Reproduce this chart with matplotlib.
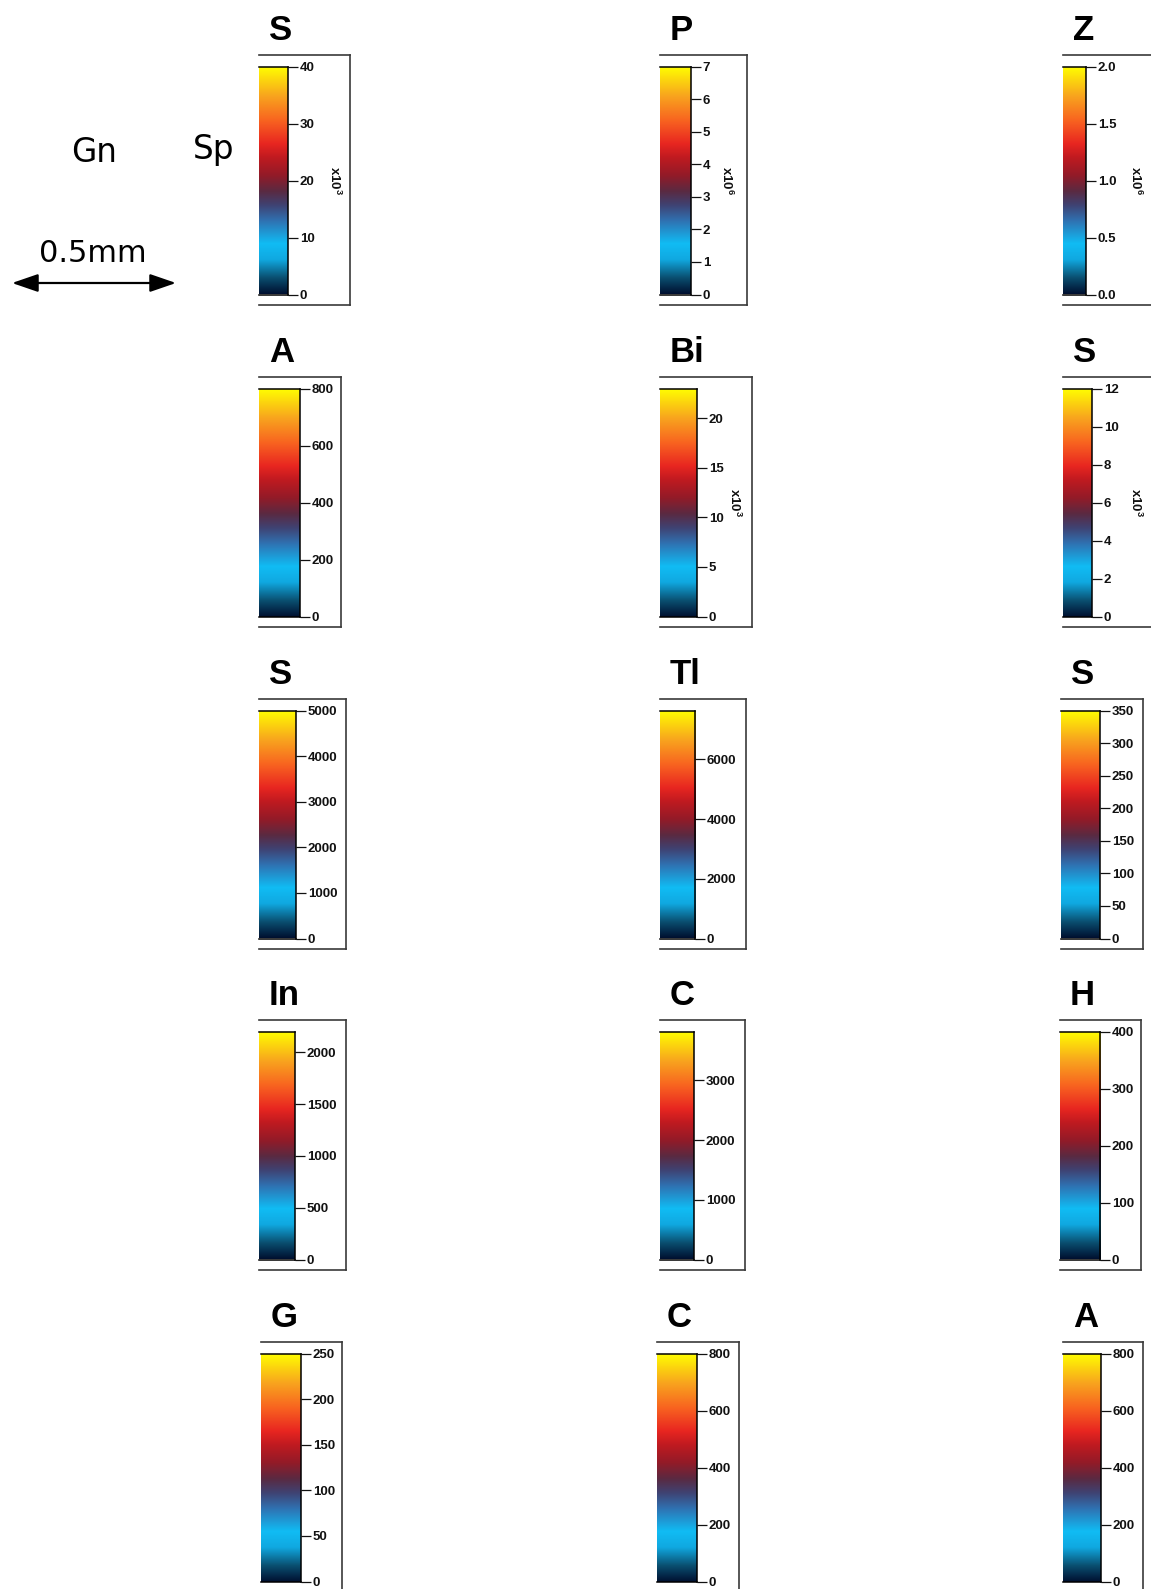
"""
Element map colour scales (Gn / Sp section), 5 x 3 grid of colorbars
"""

import numpy as np
import matplotlib
matplotlib.use("Agg")
import matplotlib.pyplot as plt
from matplotlib.colors import LinearSegmentedColormap
from matplotlib.patches import FancyArrowPatch

plt.rcParams["font.family"] = ["Liberation Sans", "DejaVu Sans"]
plt.rcParams["mathtext.fontset"] = "custom"
plt.rcParams["mathtext.rm"] = "Liberation Sans"
plt.rcParams["mathtext.bf"] = "Liberation Sans:bold"

W, H = 1151, 1589

# ---- data (row-major, 5 rows x 3 columns) ----
titles = ["S", "P", "Z",
          "A", "Bi", "S",
          "S", "Tl", "S",
          "In", "C", "H",
          "G", "C", "A"]
vmax = [40, 7, 2.0,
        800, 23, 12,
        5000, 7640, 350,
        2200, 3820, 400,
        250, 800, 800]
ticks = [[0, 10, 20, 30, 40], [0, 1, 2, 3, 4, 5, 6, 7], [0.0, 0.5, 1.0, 1.5, 2.0],
         [0, 200, 400, 600, 800], [0, 5, 10, 15, 20], [0, 2, 4, 6, 8, 10, 12],
         [0, 1000, 2000, 3000, 4000, 5000], [0, 2000, 4000, 6000], [0, 50, 100, 150, 200, 250, 300, 350],
         [0, 500, 1000, 1500, 2000], [0, 1000, 2000, 3000], [0, 100, 200, 300, 400],
         [0, 50, 100, 150, 200, 250], [0, 200, 400, 600, 800], [0, 200, 400, 600, 800]]
exponent = ["3", "6", "6",
            "", "3", "3",
            "", "", "",
            "", "", "",
            "", "", ""]

# ---- layout in pixels ----
row_top = [55, 377, 699, 1020, 1342]
cbar_left = [259, 660, 1063, 259, 660, 1063, 259, 660, 1061, 259, 660, 1060, 261, 657, 1063]
cbar_right = [288, 691, 1086, 300, 697, 1092, 296, 695, 1100, 295, 694, 1100, 301, 697, 1101]
frame_right = [350, 747, 1165, 341, 752, 1165, 346, 746, 1143, 346, 745, 1141, 342, 739, 1143]
exp_x = [335, 727, 1136, 0, 735, 1136, 0, 0, 0, 0, 0, 0, 0, 0, 0]
FRAME_H = 250
CBAR_OFF = 11.5
CBAR_H = 228

cmap = LinearSegmentedColormap.from_list("map", [
    (0.00, "#001030"),
    (0.07, "#0a4f70"),
    (0.15, "#10a8e0"),
    (0.22, "#10bcf4"),
    (0.32, "#2f72b2"),
    (0.39, "#3f4272"),
    (0.45, "#5a2a42"),
    (0.52, "#921b28"),
    (0.60, "#c01a20"),
    (0.66, "#e82620"),
    (0.76, "#f86220"),
    (0.87, "#f8a41e"),
    (1.00, "#ffff00"),
])


def box(x0, y0, x1, y1):
    return [x0 / W, 1 - y1 / H, (x1 - x0) / W, (y1 - y0) / H]


fig = plt.figure(figsize=(W / 100, H / 100), dpi=100)
gradient = np.linspace(0, 1, 512).reshape(-1, 1)

for i, name in enumerate(titles):
    top = row_top[i // 3]

    # frame around the (empty) map area
    fr = fig.add_axes(box(cbar_left[i], top, frame_right[i], top + FRAME_H))
    fr.set_xticks([])
    fr.set_yticks([])
    fr.spines["left"].set_visible(False)
    for s in ["top", "right", "bottom"]:
        fr.spines[s].set_color("#3a3a3a")
        fr.spines[s].set_linewidth(1.2)

    # colour bar
    cb = fig.add_axes(box(cbar_left[i], top + CBAR_OFF, cbar_right[i], top + CBAR_OFF + CBAR_H))
    cb.imshow(gradient, extent=(0, 1, 0, vmax[i]), origin="lower", aspect="auto", cmap=cmap)
    cb.set_ylim(0, vmax[i])
    cb.set_xticks([])
    cb.yaxis.tick_right()
    cb.set_yticks(ticks[i])
    if isinstance(ticks[i][0], float):
        cb.set_yticklabels([f"{t:.1f}" for t in ticks[i]])
    else:
        cb.set_yticklabels([str(t) for t in ticks[i]])
    cb.tick_params(axis="y", length=7, width=0.9, pad=1.5, labelsize=9.5, colors="#111111")
    for lab in cb.get_yticklabels():
        lab.set_fontweight("bold")
    cb.spines["left"].set_visible(False)
    for s in ["top", "right", "bottom"]:
        cb.spines[s].set_linewidth(1.1)

    if exponent[i]:
        fig.text(exp_x[i] / W, 1 - (top + CBAR_OFF + CBAR_H / 2) / H,
                 r"x10$^{\mathbf{" + exponent[i] + "}}$", rotation=270,
                 ha="center", va="center", fontsize=9.5, fontweight="bold", color="#111111")

    fig.text((cbar_left[i] + 10) / W, 1 - (top - 15) / H, name,
             ha="left", va="baseline", fontsize=25, fontweight="bold")

# section labels and scale bar
lab_font = ["DejaVu Sans"]
fig.text(94 / W, 1 - 153 / H, "Gn", ha="center", va="center", fontsize=23.5, family=lab_font)
fig.text(214 / W, 1 - 149 / H, "Sp", ha="center", va="center", fontsize=23.5, family=lab_font)
fig.text(93 / W, 1 - 254 / H, "0.5mm", ha="center", va="center", fontsize=22, family=lab_font)

over = fig.add_axes([0, 0, 1, 1], zorder=-1)
over.set_xlim(0, W)
over.set_ylim(H, 0)
over.axis("off")
over.add_patch(FancyArrowPatch((12, 283), (176, 283),
                               arrowstyle="<|-|>,head_length=1.6,head_width=0.55",
                               mutation_scale=10, lw=1.6, color="black",
                               shrinkA=0, shrinkB=0))

fig.savefig("out.png", dpi=100)
